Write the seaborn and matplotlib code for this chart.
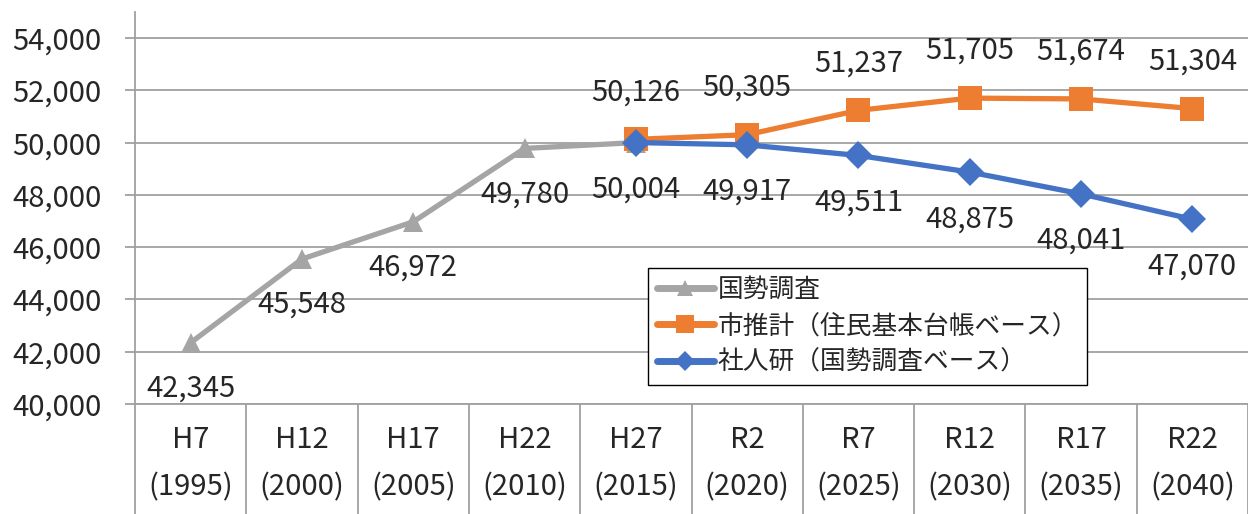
import matplotlib
matplotlib.use("Agg")
import matplotlib.pyplot as plt
import seaborn as sns
import numpy as np

# データ
categories = ["H7", "H12", "H17", "H22", "H27", "R2", "R7", "R12", "R17", "R22"]
years = ["(1995)", "(2000)", "(2005)", "(2010)", "(2015)", "(2020)", "(2025)", "(2030)", "(2035)", "(2040)"]
kokusei = [42345, 45548, 46972, 49780, 50004]
shi_suikei = [50126, 50305, 51237, 51705, 51674, 51304]
shajinken = [50004, 49917, 49511, 48875, 48041, 47070]

sns.set_style("white")
plt.rcParams['font.family'] = ['Noto Sans CJK JP', 'DejaVu Sans']

fig = plt.figure(figsize=(12.48, 5.14), dpi=100)
ax = fig.add_axes([135/1248, 110/514, 1 - 135/1248, 392/514])

x_k = np.arange(len(kokusei))
x_f = np.arange(4, 4 + len(shi_suikei))

sns.lineplot(x=x_k, y=kokusei, ax=ax, color="#A5A5A5", linewidth=3.8,
             marker="^", markersize=15, markeredgewidth=0, label="国勢調査")
sns.lineplot(x=x_f, y=shi_suikei, ax=ax, color="#ED7D31", linewidth=3.8,
             marker="s", markersize=17, markeredgewidth=0, label="市推計（住民基本台帳ベース）")
sns.lineplot(x=x_f, y=shajinken, ax=ax, color="#4472C4", linewidth=3.8,
             marker="D", markersize=14, markeredgewidth=0, label="社人研（国勢調査ベース）")

# データラベル
fs = 21
tc = "#262626"
for xi, v in zip(x_k[:4], kokusei[:4]):
    ax.annotate(f"{v:,}", (xi, v), xytext=(0, -33), textcoords="offset points",
                ha="center", va="center", fontsize=fs, color=tc)
for xi, v in zip(x_f, shi_suikei):
    ax.annotate(f"{v:,}", (xi, v), xytext=(0, 34), textcoords="offset points",
                ha="center", va="center", fontsize=fs, color=tc)
for xi, v in zip(x_f, shajinken):
    ax.annotate(f"{v:,}", (xi, v), xytext=(0, -34), textcoords="offset points",
                ha="center", va="center", fontsize=fs, color=tc)

ax.set_xlim(-0.5, 9.5)
ax.set_ylim(40000, 55000)
ax.set_yticks(range(40000, 54001, 2000))
ax.set_yticklabels([f"{v:,}" for v in range(40000, 54001, 2000)], fontsize=fs, color=tc)
ax.yaxis.grid(True, color="#A0A0A0", linewidth=1.3)
ax.tick_params(axis="y", length=7, width=1.3, color="#A0A0A0", left=True, pad=17)

ax.set_xticks(range(10))
ax.set_xticklabels([f"{c}\n{y}" for c, y in zip(categories, years)], fontsize=fs,
                   color=tc, linespacing=1.75)
ax.set_xticks(np.arange(-0.5, 10, 1), minor=True)
ax.tick_params(axis="x", which="major", length=0, pad=15)
ax.tick_params(axis="x", which="minor", length=80, width=1.3, color="#A0A0A0", bottom=True)

for s in ["top", "right"]:
    ax.spines[s].set_visible(False)
ax.spines["left"].set_color("#A0A0A0")
ax.spines["left"].set_linewidth(1.3)
ax.spines["bottom"].set_color("#A0A0A0")
ax.spines["bottom"].set_linewidth(1.3)

leg = ax.legend(loc="upper left", bbox_to_anchor=(0.461, 0.347), borderaxespad=0,
                fontsize=18.5, fancybox=False, edgecolor="black", framealpha=1,
                handlelength=2.2, handletextpad=0.15, labelspacing=0.4,
                borderpad=0.35, markerscale=0.75)
leg.get_frame().set_linewidth(1.0)
for h in leg.get_lines():
    h.set_linewidth(5)

fig.savefig("out.png", dpi=100)
